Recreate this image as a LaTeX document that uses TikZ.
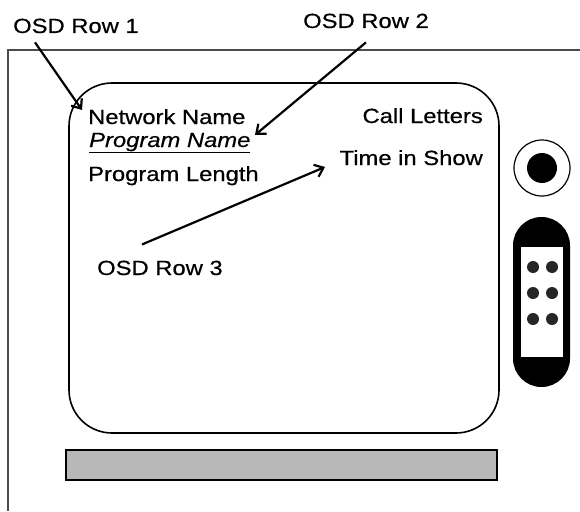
\documentclass[tikz,border=0pt]{standalone}
\usepackage{fontspec}
\setmainfont{Liberation Sans}[FakeStretch=1.16, FakeBold=0.5]
\usetikzlibrary{arrows.meta}

\tikzset{
  osdtext/.style={inner sep=0pt, anchor=base west, font=\fontsize{20.5}{24}\selectfont},
  osdright/.style={osdtext, anchor=base east},
  osdarrow/.style={line width=2.2pt, -{Straight Barb[length=8pt,width=13pt,line width=2.2pt]}}
}

\begin{document}
\begin{tikzpicture}[x=1pt, y=-1pt]
			%%%%% START %%%%%
			\useasboundingbox (0, 0) rectangle (580, 511);
			
			\draw[line width=1.3pt, black!70] (8, 511) -- (8, 50) -- (580, 50);
			
			\draw[line width=1.6pt, rounded corners=43pt] (69, 83) rectangle (499, 433);
			
			\draw[line width=1.2pt] (542, 168) circle (28pt);
			\fill (542, 168) circle (15pt);
			
			\fill[rounded corners=28.5pt] (513, 217) rectangle (570, 387);
			\fill[white] (521, 247) rectangle (563, 357);
			\foreach \y in {267, 293, 319}
				\foreach \x in {533, 552}
					\fill[black!85] (\x, \y) circle (6pt);
			
			\draw[line width=1.8pt, fill=black!28] (66, 450) rectangle (497, 480);
			
			\node[osdtext] (netname) at (88, 124) {Network Name};
			\node[osdtext] (progname) at (89, 147) {\underline{\textit{Program Name}}};
			\node[osdtext] (proglen) at (88, 181) {Program Length};
			\node[osdright] (callletters) at (483, 123) {Call Letters};
			\node[osdright] (timeshow) at (483, 165) {Time in Show};
			
			\node[osdtext] (row1) at (13, 33) {OSD Row 1};
			\node[osdtext] (row2) at (303, 28) {OSD Row 2};
			\node[osdtext] (row3) at (97, 275) {OSD Row 3};
			
			\coordinate (r1tip) at (82, 110);
			\coordinate (r2tip) at (255, 135);
			\coordinate (r3tip) at (325, 167);
			
			\draw[osdarrow] ([xshift=22pt, yshift=-9pt]row1.south west) -- (r1tip);
			\draw[osdarrow] ([yshift=-14pt]row2.south) -- (r2tip);
			\draw[osdarrow] ([xshift=-18pt, yshift=16pt]row3.north) -- (r3tip);
			%%%%% END %%%%%
\end{tikzpicture}
\end{document}
